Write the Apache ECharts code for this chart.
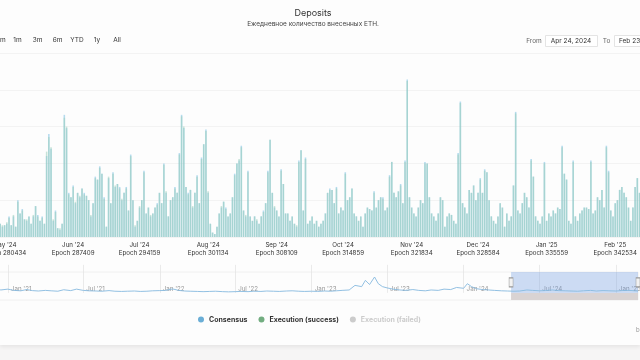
<!DOCTYPE html>
<html><head><meta charset="utf-8">
<script src="https://cdn.jsdelivr.net/npm/echarts@6/dist/echarts.min.js"></script>
<style>
html,body{margin:0;padding:0;background:#f6f5f5;width:640px;height:360px;overflow:hidden}
#card{position:absolute;left:0;top:0;width:640px;height:345px;background:#fdfdfd;box-shadow:0 2px 4px rgba(0,0,0,0.07)}
#chart{position:absolute;left:-60px;top:0;width:760px;height:360px}
</style></head>
<body><div id="card"></div><div id="chart"></div>
<script>
// ---- data (thousand ETH per day) ----
const startDay = '2024-04-24';
const consensusValues = [
10,12,8,15,11, 9,7,8,9,14, 8,14,7,25,16, 19,12,11,14,9, 14,21,15,11,14,
9,55,70,60,11, 18,6,5,9,83, 74,30,27,35,23, 30,27,33,30,28, 25,14,23,41,39,
48,43,27,7,40, 23,44,34,36,34, 25,30,34,18,56, 25,7,11,20,25, 45,16,20,14,16,
20,23,30,23,50, 30,14,25,27,34, 30,57,83,74,34, 30,32,20,30,42, 23,54,63,73,30,
9,3,2,7,16, 20,24,20,14,16, 27,43,50,52,62, 18,14,45,14,11, 14,11,9,14,18,
23,45,66,30,20, 18,14,46,36,16, 16,11,14,9,7, 52,59,18,54,9, 11,14,9,11,7,
9,11,16,30,33, 32,23,34,16,20, 18,44,25,27,33, 16,14,11,14,7, 16,20,19,18,31,
20,25,27,27,18, 20,42,51,30,27, 31,36,23,52,107, 27,20,16,14,20, 25,23,51,50,27,
16,14,11,16,27, 25,7,14,16,15, 11,9,57,92,23, 20,16,32,30,35, 25,30,40,30,46,
44,25,14,11,9, 14,23,20,7,16, 11,14,35,85,18, 16,23,30,27,20, 53,41,14,11,9,
14,51,11,16,14, 18,16,20,19,62, 43,39,11,9,52, 14,11,16,18,20, 20,19,52,16,18,
27,25,32,20,62, 45,18,14,23,25, 32,34,30,27,20, 11,20,34,40,30, 22,18,25,14,20,
28,16,12,24,19,15];
const executionValues = [
11,12,9,14,11, 9,8,8,10,13, 8,15,7,24,16, 18,12,12,14,9, 15,21,14,11,13,
9,58,68,61,12, 17,6,6,9,81, 75,29,27,34,24, 30,28,33,29,28, 25,15,23,40,39,
47,43,26,7,41, 23,43,35,36,33, 26,30,33,18,55, 25,8,11,21,25, 44,16,20,15,16,
20,22,30,23,49, 31,14,25,27,33, 30,56,82,75,34, 29,32,21,30,41, 23,53,63,72,31,
9,3,2,7,16, 21,24,19,14,16, 27,42,50,53,61, 18,15,44,14,11, 14,12,9,14,17,
23,44,66,30,21, 18,14,45,36,16, 16,11,14,9,8, 51,59,18,53,9, 11,14,9,11,7,
9,11,16,30,32, 32,23,33,16,20, 18,43,25,27,33, 16,14,11,14,7, 16,20,19,18,30,
20,25,27,26,18, 20,41,51,30,27, 31,35,23,51,106, 27,20,16,14,20, 25,23,50,50,27,
16,14,11,16,27, 25,7,14,16,15, 11,9,56,91,23, 20,16,32,30,35, 25,30,39,30,45,
44,25,14,11,9, 14,23,20,7,16, 11,14,35,84,18, 16,23,30,27,20, 52,41,14,11,9,
14,50,11,16,14, 18,16,20,19,61, 43,39,11,9,51, 14,11,16,18,20, 20,19,51,16,18,
27,25,32,20,61, 44,18,14,23,25, 32,34,30,27,20, 11,20,34,40,30, 22,18,25,14,20,
28,16,12,24,19,15];
const failedValues = [];

const tickDates  = ['2024-05-01','2024-06-01','2024-07-01','2024-08-01','2024-09-01','2024-10-01','2024-11-01','2024-12-01','2025-01-01','2025-02-01'];
const tickMonths = ["May '24","Jun '24","Jul '24","Aug '24","Sep '24","Oct '24","Nov '24","Dec '24","Jan '25","Feb '25"];
const tickEpochs = ['Epoch 280434','Epoch 287409','Epoch 294159','Epoch 301134','Epoch 308109','Epoch 314859','Epoch 321834','Epoch 328584','Epoch 335559','Epoch 342534'];

// navigator (overview) series
const navDates = ['2020-12-01','2020-12-15','2021-01-01','2021-01-15','2021-02-01','2021-02-15','2021-03-01','2021-03-15','2021-04-01','2021-04-15','2021-05-01','2021-05-15','2021-06-01','2021-06-15','2021-07-01','2021-07-15','2021-08-01','2021-08-15','2021-09-01','2021-09-15','2021-10-01','2021-10-15','2021-11-01','2021-11-15','2021-12-01','2021-12-15',
'2022-01-01','2022-01-15','2022-02-01','2022-02-15','2022-03-01','2022-03-15','2022-04-01','2022-04-15','2022-05-01','2022-05-15','2022-06-01','2022-06-15','2022-07-01','2022-07-15','2022-08-01','2022-08-15','2022-09-01','2022-09-15','2022-10-01','2022-10-15','2022-11-01','2022-11-15','2022-12-01','2022-12-15',
'2023-01-01','2023-01-15','2023-02-01','2023-02-15','2023-03-01','2023-03-15','2023-04-01','2023-04-15','2023-05-01','2023-05-10','2023-05-20','2023-06-01','2023-06-10','2023-06-20','2023-07-01','2023-07-15','2023-08-01','2023-08-15','2023-09-01','2023-09-15','2023-10-01','2023-10-15','2023-11-01','2023-11-15','2023-12-01','2023-12-15',
'2024-01-01','2024-01-10','2024-01-20','2024-02-01','2024-02-15','2024-03-01','2024-03-15','2024-04-01','2024-04-15','2024-05-01','2024-05-15','2024-06-01','2024-06-15','2024-07-01','2024-07-15','2024-08-01','2024-08-15','2024-09-01','2024-09-15','2024-10-01','2024-10-15','2024-11-01','2024-11-15','2024-12-01','2024-12-15','2025-01-01','2025-01-15','2025-02-01','2025-02-15','2025-02-23'];
const navValues = [120,70,90,60,50,80,55,45,60,50,40,75,55,90,60,50,45,40,55,40,35,40,45,35,40,50,
55,60,95,60,45,40,35,30,35,40,30,25,30,35,30,40,35,45,40,35,45,50,40,35,
40,35,45,40,50,60,70,180,150,300,200,380,220,150,120,90,70,60,80,60,50,70,60,90,80,130,
110,220,150,100,80,70,60,50,45,40,45,70,60,50,55,70,55,50,45,40,50,60,45,55,50,45,55,60,50,45];
const navTickDates  = ['2021-01-01','2021-07-01','2022-01-01','2022-07-01','2023-01-01','2023-07-01','2024-01-01','2024-07-01','2025-01-01'];
const navTickLabels = ["Jan '21","Jul '21","Jan '22","Jul '22","Jan '23","Jul '23","Jan '24","Jul '24","Jan '25"];
const selStart = '2024-04-24', selEnd = '2025-02-23';

// ---- build ----
const OX = 60; // the chart canvas starts 60px left of the page
const ts = s => new Date(s + 'T00:00:00Z').getTime();
const days = [];
for (let i = 0; i < consensusValues.length; i++) {
  days.push(new Date(ts(startDay) + i * 86400000).toISOString().slice(0, 10));
}
const navTickTs = navTickDates.map(ts);
const F = 'Inter, Roboto, sans-serif';
const chart = echarts.init(document.getElementById('chart'), null, {renderer: 'canvas'});

const txt = (x, y, s, opt) => Object.assign({type: 'text', x: x + OX, y: y,
  style: Object.assign({text: s, font: '6.5px ' + F, fill: '#333', textAlign: 'center', textVerticalAlign: 'middle'}, opt || {})});

chart.setOption({
  backgroundColor: 'transparent',
  animation: false,
  title: {
    text: 'Deposits', subtext: 'Ежедневное количество внесенных ETH.',
    left: 308 + OX, top: 4, textAlign: 'center', itemGap: 3,
    textStyle: {fontFamily: F, fontSize: 9, fontWeight: 'normal', color: '#333'},
    subtextStyle: {fontFamily: F, fontSize: 6.5, color: '#444'}
  },
  legend: {
    data: [
      {name: 'Consensus', itemStyle: {color: '#6aaed6', opacity: 1}},
      {name: 'Execution (success)', itemStyle: {color: '#72ad80', opacity: 1}},
      {name: 'Execution (failed)'}
    ],
    left: 193 + OX, top: 311, icon: 'circle', itemWidth: 6, itemHeight: 6, itemGap: 11,
    selected: {'Execution (failed)': false},
    inactiveColor: '#cccccc',
    textStyle: {fontFamily: F, fontSize: 7, fontWeight: 'bold', color: '#333'}
  },
  grid: [
    {left: OX - 12, width: 677, top: 53, bottom: 123},
    {left: OX - 5, width: 643, top: 272, height: 28, show: true, borderColor: '#ececec', borderWidth: 0.8, backgroundColor: 'transparent'}
  ],
  xAxis: [
    {type: 'category', gridIndex: 0, data: days, boundaryGap: true,
     axisLine: {show: false}, axisTick: {show: false}, splitLine: {show: false},
     axisLabel: {interval: (i, v) => tickDates.indexOf(v) >= 0,
       formatter: v => { const k = tickDates.indexOf(v); return tickMonths[k] + '\n' + tickEpochs[k]; },
       fontFamily: F, fontSize: 6.2, lineHeight: 8, color: '#333', margin: 4}},
    {type: 'value', gridIndex: 1, min: ts('2020-12-01'), max: ts('2025-02-23'),
     axisLine: {show: false}, splitLine: {show: false},
     axisTick: {show: true, inside: true, length: 28, customValues: navTickTs, lineStyle: {color: '#e4e4e4', width: 0.8}},
     axisLabel: {inside: true, customValues: navTickTs,
       formatter: v => { const k = navTickTs.indexOf(v); return k >= 0 ? navTickLabels[k] : ''; },
       fontFamily: F, fontSize: 6.2, color: '#999', align: 'left', padding: [0, 0, 0, 3], margin: 8}}
  ],
  yAxis: [
    {type: 'value', gridIndex: 0, min: 0, max: 125, interval: 25,
     axisLabel: {show: false}, axisLine: {show: false}, axisTick: {show: false},
     splitLine: {lineStyle: {color: '#f0f0f0', width: 0.8}}},
    {type: 'value', gridIndex: 1, min: -170, max: 500, show: false, splitLine: {show: false}}
  ],
  series: [
    {name: 'Consensus', type: 'bar', xAxisIndex: 0, yAxisIndex: 0, data: consensusValues,
     barGap: '-100%', barCategoryGap: '30%', color: '#6eb9e1', itemStyle: {opacity: 0.5}},
    {name: 'Execution (success)', type: 'bar', xAxisIndex: 0, yAxisIndex: 0, data: executionValues,
     barGap: '-100%', barCategoryGap: '30%', color: '#9acdba', itemStyle: {opacity: 0.55}},
    {name: 'Execution (failed)', type: 'bar', xAxisIndex: 0, yAxisIndex: 0, data: failedValues, color: '#bbbbbb', barGap: '-100%'},
    {name: 'nav', type: 'line', xAxisIndex: 1, yAxisIndex: 1, silent: true, symbol: 'none',
     data: navDates.map((d, i) => [ts(d), navValues[i]]),
     lineStyle: {color: '#86b9df', width: 0.9},
     markArea: {silent: true, data: [
       [{xAxis: ts(selStart), yAxis: 0, itemStyle: {color: 'rgba(102,150,224,0.32)'}}, {xAxis: ts(selEnd), yAxis: 500}],
       [{xAxis: ts(selStart), yAxis: -170, itemStyle: {color: '#d9d3d3'}}, {xAxis: ts(selEnd), yAxis: 0}]
     ]},
     markPoint: {silent: true, symbol: 'rect', symbolSize: [4, 9], label: {show: false},
       itemStyle: {color: '#f2f2f2', borderColor: '#999', borderWidth: 0.8},
       data: [{coord: [ts(selStart), 250]}, {coord: [ts(selEnd), 250]}]}}
  ],
  graphic: [
    txt(0, 40, 'm', {textAlign: 'left'}),
    txt(17.5, 40, '1m'), txt(37.5, 40, '3m'), txt(57.5, 40, '6m'),
    txt(77, 40, 'YTD'), txt(97, 40, '1y'), txt(117, 40, 'All'),
    txt(534, 41, 'From', {fill: '#666'}),
    {type: 'rect', shape: {x: 545.5 + OX, y: 35.5, width: 52, height: 11}, style: {fill: '#fff', stroke: '#dddddd', lineWidth: 0.8}},
    txt(571, 41, 'Apr 24, 2024'),
    txt(606.5, 41, 'To', {fill: '#666'}),
    {type: 'rect', shape: {x: 614.5 + OX, y: 35.5, width: 52, height: 11}, style: {fill: '#fff', stroke: '#dddddd', lineWidth: 0.8}},
    txt(619, 41, 'Feb 23, 2025', {textAlign: 'left'}),
    txt(636, 330, 'beaconcha.in', {textAlign: 'left', fill: '#999', font: '6px ' + F})
  ]
});
</script></body></html>
